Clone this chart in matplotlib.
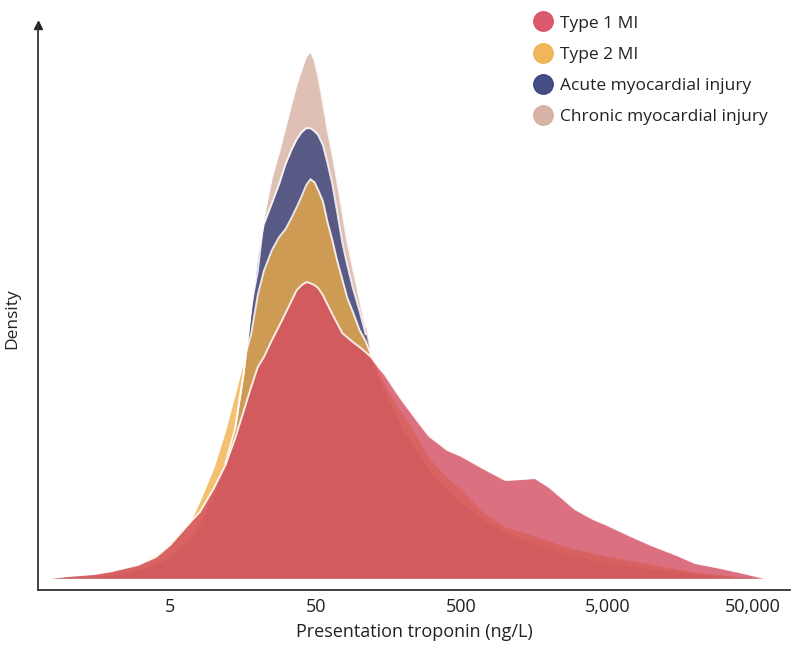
import numpy as np
import matplotlib.pyplot as plt
from matplotlib.lines import Line2D
from matplotlib.ticker import NullLocator

plt.rcParams['font.family'] = ['Open Sans', 'DejaVu Sans']

# troponin values (ng/L) where the curves were read
troponin = [0.75, 1, 1.5, 2, 3, 4, 5, 6, 7, 8, 10, 12, 14, 16, 18, 20, 22, 25, 28, 31,
            34, 37, 40, 43, 46, 49, 52, 56, 60, 65, 70, 76, 82, 90, 100, 110, 120,
            135, 150, 175, 200, 250, 300, 400, 500, 700, 1000, 1300, 1600, 2000, 2500,
            3000, 4000, 5000, 7000, 10000, 15000, 20000, 30000, 40000, 60000]

# relative density (arbitrary units)
type1 = [0, 2, 4, 7, 13, 21, 33, 46, 57, 66, 90, 113, 140, 167, 191, 211, 221, 238,
         252, 265, 277, 288, 293, 296, 295, 293, 290, 283, 274, 264, 255, 245, 241,
         236, 231, 226, 221, 211, 203, 188, 176, 157, 142, 128, 122, 110, 98, 99, 100,
         91, 79, 69, 59, 53, 43, 33, 23, 15, 10, 6, 0]
type2 = [0, 1, 3, 6, 14, 23, 35, 48, 59, 77, 111, 148, 185, 217, 244, 283, 307, 328,
         341, 349, 360, 371, 382, 393, 399, 396, 388, 377, 357, 338, 318, 299, 281,
         266, 248, 237, 223, 205, 193, 175, 163, 140, 120, 100, 88, 66, 51, 46, 42, 37,
         32, 29, 25, 22, 18, 14, 9, 6, 3, 1, 0]
acute = [0, 1, 2, 3, 8, 14, 22, 32, 42, 55, 85, 115, 150, 205, 268, 323, 354, 375,
         394, 414, 428, 439, 446, 450, 450, 447, 443, 433, 416, 394, 367, 336, 314,
         290, 267, 244, 218, 200, 185, 165, 148, 125, 108, 88, 75, 58, 45, 38, 33, 29,
         25, 22, 18, 15, 12, 9, 6, 4, 2, 1, 0]
chronic = [0, 1, 2, 3, 7, 12, 20, 28, 38, 50, 80, 110, 150, 205, 272, 307, 360, 401,
           426, 451, 474, 494, 509, 522, 527, 518, 502, 476, 450, 424, 398, 367, 338,
           310, 279, 251, 220, 195, 178, 158, 140, 118, 103, 85, 73, 60, 48, 41, 37,
           33, 29, 27, 23, 20, 16, 12, 8, 5, 3, 1, 0]

labels = ['Type 1 MI', 'Type 2 MI', 'Acute myocardial injury', 'Chronic myocardial injury']
colors = ['#d34c60', '#f0ae48', '#323c78', '#d3ab9c']
alphas = [0.8, 0.78, 0.78, 0.75]
legend_colors = ['#d9485e', '#f0ae48', '#323c78', '#d3ab9c']
series = [type1, type2, acute, chronic]

fig = plt.figure(figsize=(8, 6.48), dpi=100)
ax = fig.add_axes([0.0475, 0.0895, 0.94, 0.8715])

# draw back to front: chronic first, type 1 on top
t1 = np.array(type1)
for i in [3, 2, 1, 0]:
    vals = np.array(series[i])
    ax.fill_between(troponin, vals, 0, color=colors[i], alpha=alphas[i], lw=0)
    edge = vals if i == 0 else np.ma.masked_where(vals < t1, vals)
    ax.plot(troponin, edge, color='white', lw=1.4, alpha=0.85, solid_joinstyle='round')

ax.set_xscale('log')
ax.set_xlim(0.62, 90000)
ax.set_ylim(-12, 553)
ax.set_xticks([5, 50, 500, 5000, 50000])
ax.set_xticklabels(['5', '50', '500', '5,000', '50,000'])
ax.xaxis.set_minor_locator(NullLocator())
ax.set_yticks([])
ax.tick_params(axis='x', length=0, pad=6, labelsize=13, labelcolor='#222222')

for s in ['top', 'right']:
    ax.spines[s].set_visible(False)
for s in ['left', 'bottom']:
    ax.spines[s].set_color('#333333')
    ax.spines[s].set_linewidth(1.3)
ax.plot(0, 1, marker='^', color='#222222', ms=6, transform=ax.transAxes, clip_on=False)

ax.set_xlabel('Presentation troponin (ng/L)', fontsize=13, color='#222222', labelpad=5)
ax.set_ylabel('Density', fontsize=12.5, color='#222222')
ax.yaxis.set_label_coords(-0.024, 0.48)

handles = [Line2D([], [], ls='none', marker='o', ms=14, color=c, alpha=0.9)
           for c in legend_colors]
fig.legend(handles, labels, loc='upper left', bbox_to_anchor=(0.653, 0.995),
           frameon=False, fontsize=12.5, handlelength=1.0, handletextpad=0.45,
           labelspacing=0.86, borderpad=0.2, labelcolor='#222222')

fig.savefig('out.png', dpi=100)
